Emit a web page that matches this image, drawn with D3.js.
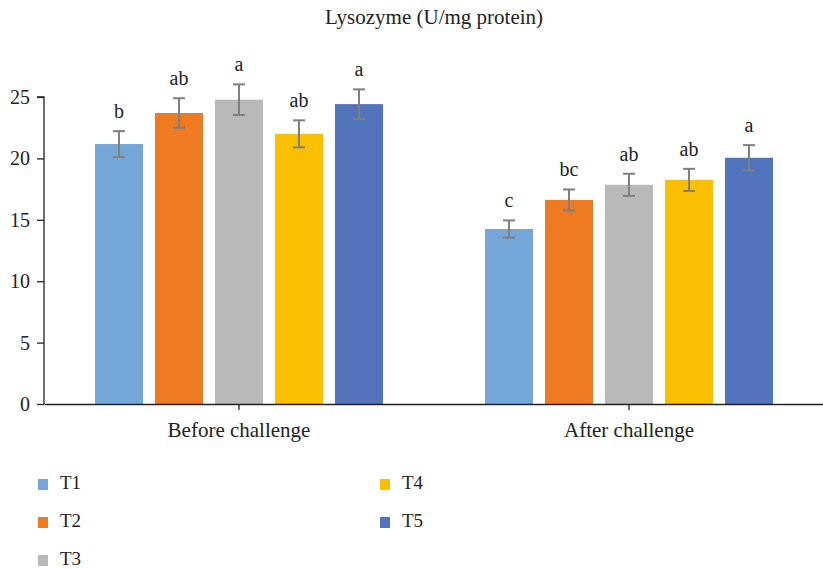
<!DOCTYPE html>
<html><head><meta charset="utf-8">
<script src="https://cdn.jsdelivr.net/npm/d3@7"></script>
<style>body{margin:0;background:#fff}svg{display:block}text{font-family:"Liberation Serif","DejaVu Serif",serif;fill:#222}</style>
</head><body><svg id="c" width="823" height="569"></svg>
<script>
const groups = ["Before challenge", "After challenge"];
const series = ["T1", "T2", "T3", "T4", "T5"];
const colors = ["#74A6D7", "#EE7A22", "#B9B9B9", "#FAC000", "#5274BC"];
const meansBefore = [21.17, 23.7, 24.78, 22.0, 24.42];
const errBefore = [1.05, 1.2, 1.25, 1.1, 1.2];
const lettersBefore = ["b", "ab", "a", "ab", "a"];
const meansAfter = [14.25, 16.62, 17.85, 18.25, 20.05];
const errAfter = [0.7, 0.85, 0.9, 0.9, 1.03];
const lettersAfter = ["c", "bc", "ab", "ab", "a"];
const yTicks = [0, 5, 10, 15, 20, 25];

const svg = d3.select("#c");
const x0 = d3.scaleBand().domain(groups).range([44, 824]);
const x1 = d3.scaleBand().domain(series).range([0, 300]).paddingInner(0.2).paddingOuter(0.1);
const y = d3.scaleLinear().domain([0, 25]).range([404, 97]);
const color = d3.scaleOrdinal().domain(series).range(colors);

const data = [];
groups.forEach((g, gi) => series.forEach((s, si) => {
  data.push({g, s, v: gi ? meansAfter[si] : meansBefore[si], e: gi ? errAfter[si] : errBefore[si], l: gi ? lettersAfter[si] : lettersBefore[si]});
}));
const off = (x0.bandwidth() - 300) / 2;
const bx = d => x0(d.g) + off + x1(d.s);

svg.append("text").attr("x", 434).attr("y", 24).attr("text-anchor", "middle").style("font-size", "21px").text("Lysozyme (U/mg protein)");

svg.selectAll("rect.bar").data(data).join("rect").attr("class", "bar")
  .attr("x", bx).attr("width", x1.bandwidth())
  .attr("y", d => y(d.v)).attr("height", d => y(0) - y(d.v)).attr("fill", d => color(d.s));

const eb = svg.append("g").attr("stroke", "#7f7f7f").attr("stroke-width", 2);
data.forEach(d => {
  const cx = bx(d) + x1.bandwidth() / 2;
  eb.append("line").attr("x1", cx).attr("x2", cx).attr("y1", y(d.v + d.e)).attr("y2", y(d.v - d.e));
  eb.append("line").attr("x1", cx - 6).attr("x2", cx + 6).attr("y1", y(d.v + d.e)).attr("y2", y(d.v + d.e));
  eb.append("line").attr("x1", cx - 6).attr("x2", cx + 6).attr("y1", y(d.v - d.e)).attr("y2", y(d.v - d.e));
});

svg.selectAll("text.lab").data(data).join("text").attr("class", "lab")
  .attr("x", d => bx(d) + x1.bandwidth() / 2).attr("y", d => y(d.v + d.e) - 13)
  .attr("text-anchor", "middle").style("font-size", "20px").text(d => d.l);

const ya = svg.append("g").attr("transform", "translate(44,0)")
  .call(d3.axisLeft(y).tickValues(yTicks).tickSize(7).tickPadding(7));
ya.select(".domain").attr("stroke", "#222").attr("stroke-width", 1.3).attr("d", "M-7,97H0V404");
ya.selectAll(".tick line").attr("stroke", "#222").attr("stroke-width", 1.3);
ya.selectAll(".tick text").style("font-size", "20px").attr("font-family", null).style("fill", "#222");

const xa = svg.append("g").attr("transform", "translate(0,404)")
  .call(d3.axisBottom(x0).tickSize(6).tickSizeOuter(0).tickPadding(12));
xa.select(".domain").attr("stroke", "#222").attr("stroke-width", 1.3);
xa.selectAll(".tick line").attr("stroke", "#222").attr("stroke-width", 1.3);
xa.selectAll(".tick text").style("font-size", "21px").attr("font-family", null).style("fill", "#222");

const legPos = [[38, 479], [38, 517], [38, 555], [380, 479], [380, 517]];
const leg = svg.append("g");
series.forEach((s, i) => {
  leg.append("rect").attr("x", legPos[i][0]).attr("y", legPos[i][1]).attr("width", 10).attr("height", 11).attr("fill", color(s));
  leg.append("text").attr("x", legPos[i][0] + 22).attr("y", legPos[i][1] + 10).style("font-size", "19px").text(s);
});
</script></body></html>
